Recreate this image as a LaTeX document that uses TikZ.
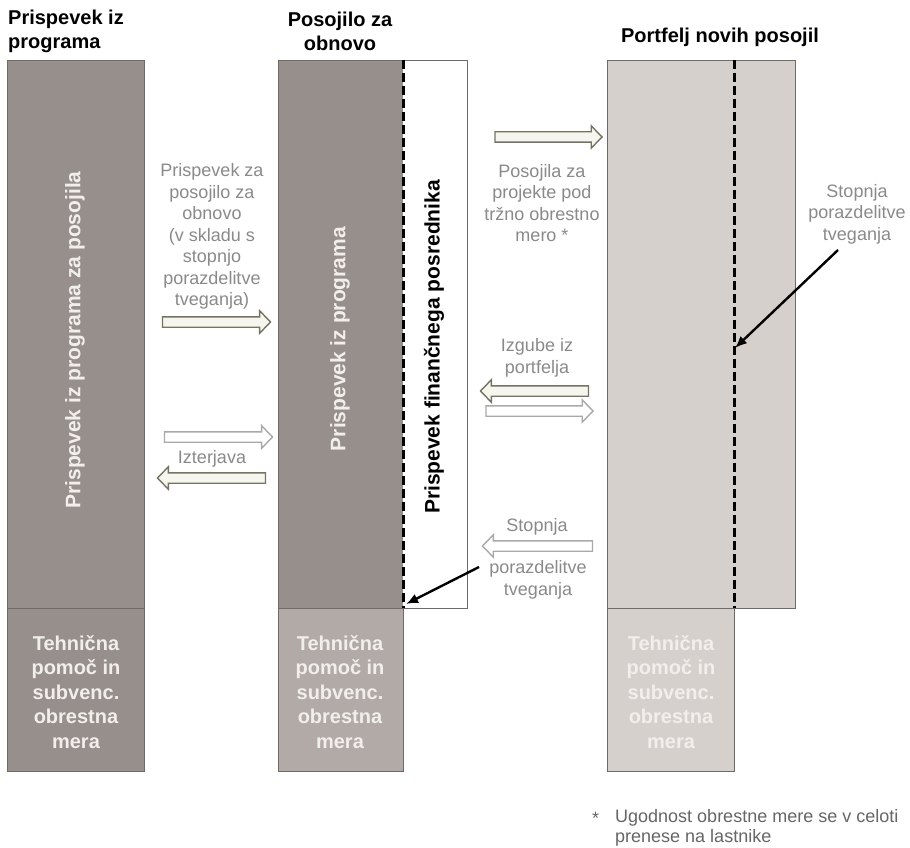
\documentclass[tikz,border=0pt]{standalone}
\usepackage{fontspec}
\setmainfont{Liberation Sans}
\usetikzlibrary{shapes.arrows,arrows.meta}
\definecolor{darkcol}{HTML}{978F8B}
\definecolor{midcol}{HTML}{B2AAA7}
\definecolor{lightcol}{HTML}{D6D0CD}
\definecolor{edgecol}{HTML}{6E6A68}
\definecolor{labelgray}{HTML}{8A8A8A}
\definecolor{arrdark}{HTML}{737462}
\definecolor{arrfill}{HTML}{F6F6EE}
\definecolor{arrlight}{HTML}{A9A9A9}
\definecolor{softwhite}{HTML}{F1EEEC}
\begin{document}
\begin{tikzpicture}[x=1pt,y=-1pt,
  colbox/.style={draw=edgecol,line width=0.9pt},
  title/.style={font=\fontsize{20}{24}\selectfont\bfseries,inner sep=0pt,align=center},
  lbl/.style={font=\fontsize{18}{21.5}\selectfont,text=labelgray,inner sep=0pt,align=center},
  vtext/.style={font=\fontsize{21}{24}\selectfont\bfseries,inner sep=0pt,rotate=90},
  lowtext/.style={font=\fontsize{20}{24.5}\selectfont\bfseries,inner sep=0pt,align=center},
  barrow/.style={single arrow,inner xsep=0pt,inner ysep=4.5pt,single arrow head extend=6pt,
     single arrow tip angle=92,line width=1.4pt,anchor=center},
  bdark/.style={barrow,draw=arrdark,fill=arrfill},
  blight/.style={barrow,draw=arrlight,fill=white},
  dashline/.style={line width=3pt,dash pattern=on 9pt off 4pt},
  pointer/.style={line width=2.4pt,-{Latex[length=12pt,width=10pt]}},
  foot/.style={font=\fontsize{18}{20}\selectfont,text=black!60,inner sep=0pt,align=left}]
\useasboundingbox (0,0) rectangle (910,848);
\fill[white] (0,0) rectangle (910,848);

% column 1
\fill[darkcol] (7,60) rectangle (144,771);
\draw[colbox] (7,60) rectangle (144,608);
\draw[colbox] (7,608) rectangle (144,771);

% column 2
\fill[darkcol] (278,60) rectangle (403,608);
\draw[colbox] (278,60) rectangle (467,608);
\fill[midcol] (278,608) rectangle (403,771);
\draw[colbox] (278,608) rectangle (403,771);
\draw[dashline] (403,60) -- (403,608);

% column 3
\fill[lightcol] (607,60) rectangle (795,608);
\draw[colbox] (607,60) rectangle (795,608);
\fill[lightcol] (607,608) rectangle (734,771);
\draw[colbox] (607,608) rectangle (734,771);
\draw[dashline] (734,60) -- (734,608);

% titles
\node[title,anchor=west,align=left] (t1) at (8,31) {Prispevek iz\\programa};
\node[title] (t2) at (340,31) {Posojilo za\\obnovo};
\node[title] (t3) at (720,37) {Portfelj novih posojil};

% vertical texts
\node[vtext,text=softwhite] (v1) at (75,340) {Prispevek iz programa za posojila};
\node[vtext,text=softwhite] (v2) at (340,339) {Prispevek iz programa};
\node[vtext,text=black] (v3) at (434,347) {Prispevek finančnega posrednika};

% lower boxes
\node[lowtext,text=softwhite] (l1) at (76,692) {Tehnična\\pomoč in\\subvenc.\\obrestna\\mera};
\node[lowtext,text=softwhite] (l2) at (340,692) {Tehnična\\pomoč in\\subvenc.\\obrestna\\mera};
\node[lowtext,text=softwhite] (l3) at (671,692) {Tehnična\\pomoč in\\subvenc.\\obrestna\\mera};

% labels
\node[lbl] (p1) at (212,236.5) {Prispevek za\\posojilo za\\obnovo\\(v skladu s\\stopnjo\\porazdelitve\\tveganja)};
\node[lbl] (p2) at (212,459) {Izterjava};
\node[lbl] (p3) at (542,203) {Posojila za\\projekte pod\\tržno obrestno\\mero *};
\node[lbl] (p4) at (537,358) {Izgube iz\\portfelja};
\node[lbl] (p5) at (537,527) {Stopnja};
\node[lbl] (p6) at (538,580) {porazdelitve\\tveganja};
\node[lbl] (p7) at (857,214) {Stopnja\\porazdelitve\\tveganja};

% block arrows
\node[bdark,minimum height=108pt] (a1) at (214,322) {};
\node[blight,minimum height=108pt] (a2) at (216,437) {};
\node[bdark,minimum height=108pt,shape border rotate=180] (a3) at (214,478) {};
\node[bdark,minimum height=107pt] (a4) at (546,137) {};
\node[bdark,minimum height=108pt,shape border rotate=180] (a5) at (537,391) {};
\node[blight,minimum height=107pt] (a6) at (537,411) {};
\node[blight,minimum height=110pt,shape border rotate=180] (a7) at (540,546) {};

% pointer arrows
\coordinate (d3) at (735,348);
\coordinate (d2) at (406,604);
\coordinate (s3) at (838,250);
\coordinate (s2) at (479,567);
\draw[pointer] (s3) -- (d3);
\draw[pointer] (s2) -- (d2);

% footnote
\node[foot,anchor=west] (fs) at (592,818) {*};
\node[foot,anchor=north west] (ft) at (615,809) {Ugodnost obrestne mere se v celoti\\prenese na lastnike};
\end{tikzpicture}
\end{document}
